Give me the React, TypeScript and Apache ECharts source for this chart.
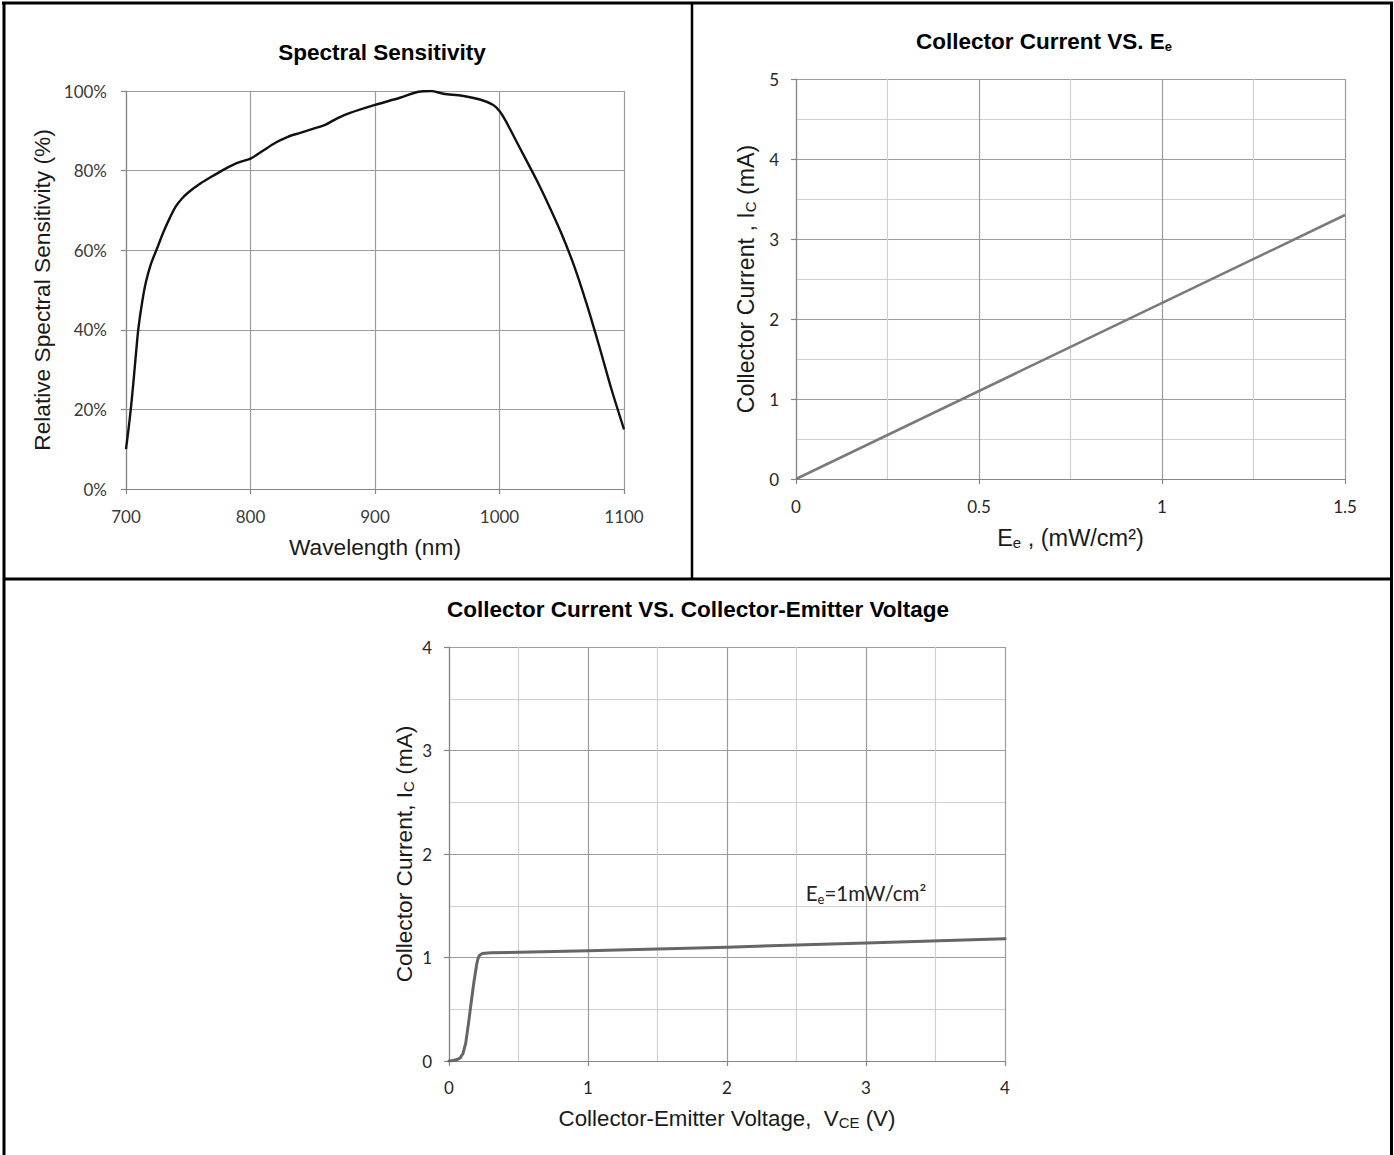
import React, { useEffect, useRef } from "react";
import * as echarts from "echarts";

// ---------- Data ----------
// Spectral sensitivity
const wavelengthNm = [
  700, 702, 704, 706, 708, 710, 713, 716, 720, 725, 730, 735, 740, 745, 750, 760, 770, 780, 790, 800,
  810, 820, 830, 840, 850, 860, 870, 880, 900, 920, 935, 945, 955, 970, 985, 995, 1000, 1005, 1010,
  1020, 1030, 1040, 1050, 1060, 1070, 1080, 1090, 1100,
];
const relSensitivityPct = [
  10, 15, 20.5, 27, 34, 40.5, 47, 52, 56.5, 60.5, 64.5, 68, 71, 73, 74.5, 76.8, 78.7, 80.5, 82, 83,
  85, 87, 88.5, 89.5, 90.5, 91.5, 93.2, 94.5, 96.5, 98.3, 99.8, 100, 99.3, 98.8, 97.8, 96.5, 95, 92.5, 89.5,
  83.5, 77.5, 71, 64, 56, 46.5, 36, 25, 15,
];
const spectralXRange = [700, 1100, 100];
const spectralYRange = [0, 100, 20];

// Collector current vs irradiance
const irradiance = [0, 1.5];
const currentVsIrr = [0, 3.3];
const irrXRange = [0, 1.5, 0.5];
const irrYRange = [0, 5, 1];

// Collector current vs collector-emitter voltage
const vceVolts = [0, 0.03, 0.06, 0.08, 0.1, 0.12, 0.14, 0.16, 0.18, 0.2, 0.21, 0.22, 0.24, 0.3, 1, 2, 3, 4];
const currentVsVce = [0, 0.005, 0.015, 0.03, 0.07, 0.17, 0.36, 0.57, 0.77, 0.94, 0.995, 1.022, 1.038, 1.045, 1.065, 1.1, 1.14, 1.18];
const vceXRange = [0, 4, 1];
const vceYRange = [0, 4, 1];
const annotationCoord = [3.0, 1.62];

// ---------- Styles ----------
const arial = "'Liberation Sans', Arial, Helvetica, sans-serif";
const calibri = "Lato, 'Noto Sans', sans-serif";
const axisGray = "#868686";
const gridGray = "#9c9c9c";
const minorGray = "#cfcfcf";

const nameStyle = (size: number) => ({
  fontFamily: arial,
  fontSize: size,
  color: "#1a1a1a",
  lineHeight: 24,
  rich: {
    sub: { fontFamily: arial, fontSize: 15, color: "#1a1a1a", lineHeight: 12, verticalAlign: "bottom" },
  },
});

const titleStyle = {
  fontFamily: arial,
  fontSize: 22.5,
  fontWeight: "bold",
  color: "#000",
  lineHeight: 24,
  rich: {
    sub: { fontFamily: arial, fontSize: 13, fontWeight: "bold", color: "#000", lineHeight: 12, verticalAlign: "bottom" },
  },
};

const plainNumber = (v: number) => String(v);

function valueAxis(gridIndex: number, range: number[], labelColor: string, margin: number, extra: any) {
  return {
    type: "value",
    gridIndex,
    min: range[0],
    max: range[1],
    interval: range[2],
    axisLine: { show: true, onZero: false, lineStyle: { color: axisGray, width: 1.2 } },
    axisTick: { show: true, inside: false, length: 5, lineStyle: { color: axisGray, width: 1.2 } },
    axisLabel: {
      show: true,
      color: labelColor,
      fontFamily: calibri,
      fontSize: 17,
      margin,
      showMinLabel: true,
      showMaxLabel: true,
      formatter: plainNumber,
    },
    splitLine: { show: true, lineStyle: { color: gridGray, width: 1.2 } },
    nameLocation: "middle",
    ...extra,
  };
}

export default function App() {
  const ref = useRef<HTMLDivElement>(null);

  useEffect(() => {
    document.body.style.margin = "0";
    if (!ref.current) return;
    const chart = echarts.init(ref.current, null, { renderer: "svg" });

    const minorLines = {
      minorTick: { show: false, splitNumber: 2 },
      minorSplitLine: { show: true, lineStyle: { color: minorGray, width: 1.2 } },
    };

    const option: any = {
      animation: false,
      backgroundColor: "#ffffff",
      title: [
        {
          text: "Spectral Sensitivity",
          left: 382,
          top: 40,
          textAlign: "center",
          textVerticalAlign: "top",
          padding: 0,
          textStyle: titleStyle,
        },
        {
          text: "Collector Current VS. E{sub|e}",
          left: 1044,
          top: 29,
          textAlign: "center",
          textVerticalAlign: "top",
          padding: 0,
          textStyle: titleStyle,
        },
        {
          text: "Collector Current VS. Collector-Emitter Voltage",
          left: 698,
          top: 597,
          textAlign: "center",
          textVerticalAlign: "top",
          padding: 0,
          textStyle: titleStyle,
        },
      ],
      grid: [
        { left: 126, top: 91, width: 498, height: 398, outerBoundsMode: "none", containLabel: false },
        { left: 796, top: 79, width: 549, height: 400, outerBoundsMode: "none", containLabel: false },
        { left: 449, top: 647, width: 556, height: 414, outerBoundsMode: "none", containLabel: false },
      ],
      xAxis: [
        valueAxis(0, spectralXRange, "#3a3a3a", 19, {
          name: "Wavelength (nm)",
          nameGap: 46,
          nameTextStyle: nameStyle(22.7),
        }),
        valueAxis(1, irrXRange, "#262626", 19, {
          name: "E{sub|e} , (mW/cm²)",
          nameGap: 47,
          nameTextStyle: nameStyle(23.5),
          ...minorLines,
        }),
        valueAxis(2, vceXRange, "#262626", 18, {
          name: "Collector-Emitter Voltage,  V{sub|CE} (V)",
          nameGap: 45,
          nameTextStyle: nameStyle(22.3),
          ...minorLines,
        }),
      ],
      yAxis: [
        valueAxis(0, spectralYRange, "#3a3a3a", 19, {
          name: "Relative Spectral Sensitivity (%)",
          nameGap: 72,
          nameTextStyle: nameStyle(22.7),
          axisLabel: {
            show: true,
            color: "#3a3a3a",
            fontFamily: calibri,
            fontSize: 17,
            margin: 19,
            showMinLabel: true,
            showMaxLabel: true,
            formatter: "{value}%",
          },
        }),
        valueAxis(1, irrYRange, "#262626", 17, {
          name: "Collector Current , I{sub|C} (mA)",
          nameGap: 38,
          nameTextStyle: nameStyle(23.2),
          ...minorLines,
        }),
        valueAxis(2, vceYRange, "#262626", 17, {
          name: "Collector Current, I{sub|C} (mA)",
          nameGap: 33,
          nameTextStyle: nameStyle(22.7),
          ...minorLines,
        }),
      ],
      series: [
        {
          name: "Relative Spectral Sensitivity",
          type: "line",
          xAxisIndex: 0,
          yAxisIndex: 0,
          data: wavelengthNm.map((w, i) => [w, relSensitivityPct[i]]),
          smooth: 0.3,
          symbol: "none",
          showSymbol: false,
          lineStyle: { color: "#111111", width: 2.4 },
          silent: true,
        },
        {
          name: "Ic vs Ee",
          type: "line",
          xAxisIndex: 1,
          yAxisIndex: 1,
          data: irradiance.map((e, i) => [e, currentVsIrr[i]]),
          symbol: "none",
          showSymbol: false,
          lineStyle: { color: "#7a7a7a", width: 2.5 },
          silent: true,
        },
        {
          name: "Ic vs Vce",
          type: "line",
          xAxisIndex: 2,
          yAxisIndex: 2,
          data: vceVolts.map((v, i) => [v, currentVsVce[i]]),
          smooth: false,
          symbol: "none",
          showSymbol: false,
          lineStyle: { color: "#666666", width: 3, join: "round", cap: "round" },
          silent: true,
          markPoint: {
            silent: true,
            symbol: "circle",
            symbolSize: 0,
            itemStyle: { color: "transparent" },
            label: {
              show: true,
              position: "inside",
              formatter: "E{sub|e}=1mW/cm²",
              fontFamily: calibri,
              fontSize: 20.5,
              color: "#222",
              lineHeight: 24,
              rich: {
                sub: { fontFamily: calibri, fontSize: 13, color: "#222", lineHeight: 11, verticalAlign: "bottom" },
              },
            },
            data: [{ coord: annotationCoord, value: 1 }],
          },
        },
      ],
      graphic: [
        { type: "line", shape: { x1: 2, y1: 3, x2: 1393, y2: 3 }, style: { stroke: "#000", lineWidth: 3 }, silent: true },
        { type: "line", shape: { x1: 4, y1: 2, x2: 4, y2: 1155 }, style: { stroke: "#000", lineWidth: 3 }, silent: true },
        { type: "line", shape: { x1: 1391.5, y1: 2, x2: 1391.5, y2: 1155 }, style: { stroke: "#000", lineWidth: 3 }, silent: true },
        { type: "line", shape: { x1: 692, y1: 2, x2: 692, y2: 579 }, style: { stroke: "#000", lineWidth: 2.5 }, silent: true },
        { type: "line", shape: { x1: 3, y1: 579, x2: 1393, y2: 579 }, style: { stroke: "#000", lineWidth: 3 }, silent: true },
      ],
    };

    chart.setOption(option);
    return () => chart.dispose();
  }, []);

  return (
    <div
      ref={ref}
      style={{ position: "absolute", left: 0, top: 0, width: 1394, height: 1155, background: "#fff" }}
    />
  );
}
